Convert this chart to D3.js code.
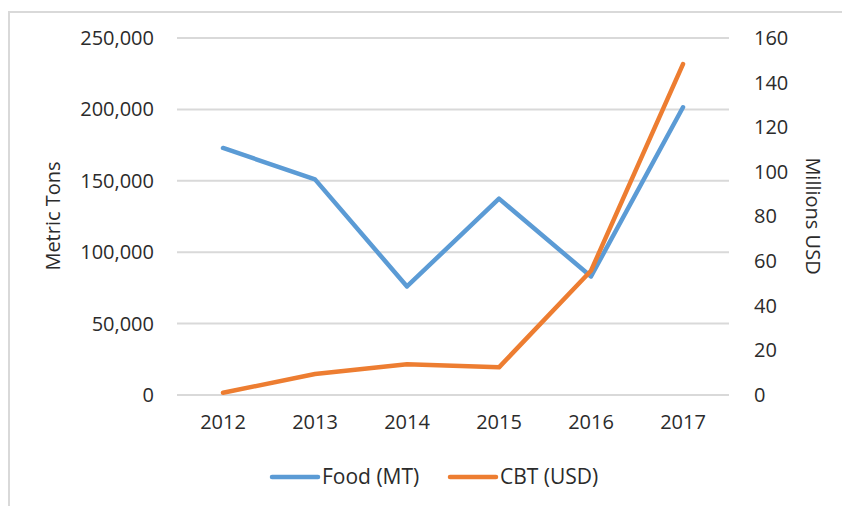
<!DOCTYPE html>
<html lang="en">
<head>
    <meta charset="UTF-8">
    <title>Food and CBT</title>
    <script src="https://d3js.org/d3.v7.min.js"></script>
    <style>
        body {
            margin: 0;
            background: #fff;
        }
        svg text {
            font-family: 'Open Sans', 'Noto Sans', sans-serif;
            fill: #2b2b2b;
        }
    </style>
</head>
<body>
    <svg id="chart" width="842" height="506"></svg>

    <script>
        // Data
        const years = ["2012", "2013", "2014", "2015", "2016", "2017"];
        const foodMT = [173000, 151000, 76000, 137500, 83000, 201500];
        const cbtUSD = [1, 9.4, 13.8, 12.4, 55.7, 148.3];
        const leftTicks = [0, 50000, 100000, 150000, 200000, 250000];
        const rightTicks = [0, 20, 40, 60, 80, 100, 120, 140, 160];

        const svg = d3.select("#chart");

        // outer chart frame
        svg.append("rect")
            .attr("x", 9).attr("y", 12)
            .attr("width", 850).attr("height", 510)
            .attr("fill", "none")
            .attr("stroke", "#d9d9d9")
            .attr("stroke-width", 2);

        const plotLeft = 177, plotRight = 729, plotTop = 38, plotBottom = 395;

        const x = d3.scaleBand().domain(years).range([plotLeft, plotRight]);
        const yL = d3.scaleLinear().domain([0, 250000]).range([plotBottom, plotTop]);
        const yR = d3.scaleLinear().domain([0, 160]).range([plotBottom, plotTop]);

        // gridlines
        svg.append("g")
            .selectAll("line")
            .data(leftTicks)
            .join("line")
            .attr("x1", plotLeft).attr("x2", plotRight)
            .attr("y1", d => yL(d)).attr("y2", d => yL(d))
            .attr("stroke", "#d9d9d9")
            .attr("stroke-width", 2);

        // left axis
        const axL = svg.append("g")
            .attr("transform", `translate(${plotLeft},0)`)
            .call(d3.axisLeft(yL).tickValues(leftTicks).tickSize(0).tickPadding(23)
                .tickFormat(d3.format(",")));
        axL.select(".domain").remove();
        axL.selectAll("text").style("font-size", "20px");

        // right axis
        const axR = svg.append("g")
            .attr("transform", `translate(${plotRight},0)`)
            .call(d3.axisRight(yR).tickValues(rightTicks).tickSize(0).tickPadding(25));
        axR.select(".domain").remove();
        axR.selectAll("text").style("font-size", "20px");

        // x axis
        const axX = svg.append("g")
            .attr("transform", `translate(0,${plotBottom})`)
            .call(d3.axisBottom(x).tickSize(0).tickPadding(20));
        axX.select(".domain").remove();
        axX.selectAll("text").style("font-size", "20px");

        // axis titles
        svg.append("text")
            .attr("transform", "translate(60,216) rotate(-90)")
            .attr("text-anchor", "middle")
            .style("font-size", "20px")
            .text("Metric Tons");

        svg.append("text")
            .attr("transform", "translate(806,216) rotate(90)")
            .attr("text-anchor", "middle")
            .style("font-size", "20px")
            .text("Millions USD");

        const cx = d => x(d) + x.bandwidth() / 2;

        const foodLine = d3.line()
            .x((d, i) => cx(years[i]))
            .y(d => yL(d));
        const cbtLine = d3.line()
            .x((d, i) => cx(years[i]))
            .y(d => yR(d));

        svg.append("path")
            .datum(foodMT)
            .attr("d", foodLine)
            .attr("fill", "none")
            .attr("stroke", "#5b9bd5")
            .attr("stroke-width", 4.5)
            .attr("stroke-linecap", "round")
            .attr("stroke-linejoin", "round");

        svg.append("path")
            .datum(cbtUSD)
            .attr("d", cbtLine)
            .attr("fill", "none")
            .attr("stroke", "#ed7d31")
            .attr("stroke-width", 4.5)
            .attr("stroke-linecap", "round")
            .attr("stroke-linejoin", "round");

        // legend
        const legend = [
            { name: "Food (MT)", color: "#5b9bd5", x: 272 },
            { name: "CBT (USD)", color: "#ed7d31", x: 450 }
        ];
        const lg = svg.append("g")
            .selectAll("g")
            .data(legend)
            .join("g")
            .attr("transform", d => `translate(${d.x},477)`);
        lg.append("line")
            .attr("x1", 0).attr("x2", 46)
            .attr("stroke", d => d.color)
            .attr("stroke-width", 4.5)
            .attr("stroke-linecap", "round");
        lg.append("text")
            .attr("x", 50)
            .attr("dy", "0.35em")
            .style("font-size", "21px")
            .text(d => d.name);
    </script>
</body>
</html>
